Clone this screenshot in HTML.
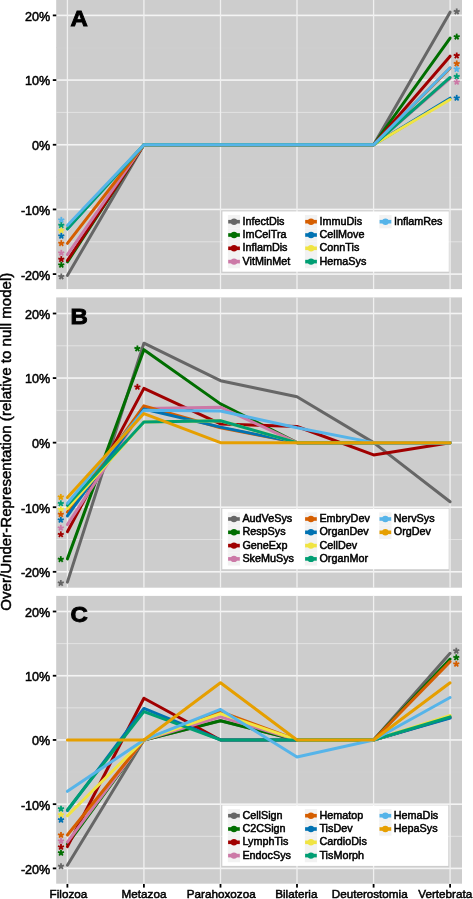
<!DOCTYPE html>
<html><head><meta charset="utf-8"><style>
html,body{margin:0;padding:0;background:#fff;width:473px;height:899px;overflow:hidden;position:relative}
svg{will-change:transform}
svg text{font-family:"Liberation Sans",sans-serif;fill:#000;stroke:#000;stroke-width:0.5px}
.tk{font-size:12.6px}
.xl{font-size:11.7px}
.lg{font-size:10.8px}
.pl{font-size:22px;font-weight:bold;stroke-width:0.9px}
.yt{font-size:15.1px;stroke-width:0.5px}
</style></head><body>
<svg width="473" height="899" viewBox="0 0 473 899" style="position:absolute;left:0;top:0"><rect x="56.2" y="0.0" width="405.80" height="289.10" fill="#cdcdcd"/><rect x="56.2" y="47.24" width="405.80" height="1.0" fill="#cfcfcf"/><rect x="56.2" y="111.91" width="405.80" height="1.0" fill="#e2e2e2"/><rect x="56.2" y="176.59" width="405.80" height="1.0" fill="#cfcfcf"/><rect x="56.2" y="241.26" width="405.80" height="1.0" fill="#e2e2e2"/><rect x="56.2" y="14.60" width="405.80" height="1.6" fill="#f4f4f4"/><rect x="56.2" y="79.28" width="405.80" height="1.6" fill="#f4f4f4"/><rect x="56.2" y="143.95" width="405.80" height="1.6" fill="#f4f4f4"/><rect x="56.2" y="208.63" width="405.80" height="1.6" fill="#f4f4f4"/><rect x="56.2" y="273.30" width="405.80" height="1.6" fill="#f4f4f4"/><rect x="66.75" y="0.0" width="1.3" height="289.10" fill="#f0f0f0"/><rect x="143.25" y="0.0" width="1.3" height="289.10" fill="#f0f0f0"/><rect x="219.85" y="0.0" width="1.3" height="289.10" fill="#f0f0f0"/><rect x="296.35" y="0.0" width="1.3" height="289.10" fill="#f0f0f0"/><rect x="372.95" y="0.0" width="1.3" height="289.10" fill="#f0f0f0"/><rect x="449.45" y="0.0" width="1.3" height="289.10" fill="#f0f0f0"/><polyline points="67.40,275.39 143.90,144.75 220.50,144.75 297.00,144.75 373.60,144.75 450.10,12.17" fill="none" stroke="#666666" stroke-width="3.0" stroke-linejoin="round" stroke-linecap="round"/><polyline points="67.40,261.81 143.90,144.75 220.50,144.75 297.00,144.75 373.60,144.75 450.10,38.04" fill="none" stroke="#006e00" stroke-width="3.0" stroke-linejoin="round" stroke-linecap="round"/><polyline points="67.40,260.52 143.90,144.75 220.50,144.75 297.00,144.75 373.60,144.75 450.10,56.15" fill="none" stroke="#a00000" stroke-width="3.0" stroke-linejoin="round" stroke-linecap="round"/><polyline points="67.40,254.70 143.90,144.75 220.50,144.75 297.00,144.75 373.60,144.75 450.10,78.46" fill="none" stroke="#cc79a7" stroke-width="3.0" stroke-linejoin="round" stroke-linecap="round"/><polyline points="67.40,243.38 143.90,144.75 220.50,144.75 297.00,144.75 373.60,144.75 450.10,68.11" fill="none" stroke="#d55e00" stroke-width="3.0" stroke-linejoin="round" stroke-linecap="round"/><polyline points="67.40,228.83 143.90,144.75 220.50,144.75 297.00,144.75 373.60,144.75 450.10,98.18" fill="none" stroke="#0072b2" stroke-width="3.0" stroke-linejoin="round" stroke-linecap="round"/><polyline points="67.40,227.53 143.90,144.75 220.50,144.75 297.00,144.75 373.60,144.75 450.10,99.48" fill="none" stroke="#f0e442" stroke-width="3.0" stroke-linejoin="round" stroke-linecap="round"/><polyline points="67.40,228.83 143.90,144.75 220.50,144.75 297.00,144.75 373.60,144.75 450.10,77.49" fill="none" stroke="#009e73" stroke-width="3.0" stroke-linejoin="round" stroke-linecap="round"/><polyline points="67.40,225.59 143.90,144.75 220.50,144.75 297.00,144.75 373.60,144.75 450.10,67.79" fill="none" stroke="#56b4e9" stroke-width="3.0" stroke-linejoin="round" stroke-linecap="round"/><g transform="translate(61.30,220.00)" fill="#56b4e9"><rect x="-0.9" y="-3.15" width="1.8" height="3.15" transform="rotate(0)"/><rect x="-0.9" y="-3.15" width="1.8" height="3.15" transform="rotate(72)"/><rect x="-0.9" y="-3.15" width="1.8" height="3.15" transform="rotate(144)"/><rect x="-0.9" y="-3.15" width="1.8" height="3.15" transform="rotate(216)"/><rect x="-0.9" y="-3.15" width="1.8" height="3.15" transform="rotate(288)"/><circle r="1.5"/></g><g transform="translate(61.30,225.30)" fill="#009e73"><rect x="-0.9" y="-3.15" width="1.8" height="3.15" transform="rotate(0)"/><rect x="-0.9" y="-3.15" width="1.8" height="3.15" transform="rotate(72)"/><rect x="-0.9" y="-3.15" width="1.8" height="3.15" transform="rotate(144)"/><rect x="-0.9" y="-3.15" width="1.8" height="3.15" transform="rotate(216)"/><rect x="-0.9" y="-3.15" width="1.8" height="3.15" transform="rotate(288)"/><circle r="1.5"/></g><g transform="translate(61.30,230.50)" fill="#f0e442"><rect x="-0.9" y="-3.15" width="1.8" height="3.15" transform="rotate(0)"/><rect x="-0.9" y="-3.15" width="1.8" height="3.15" transform="rotate(72)"/><rect x="-0.9" y="-3.15" width="1.8" height="3.15" transform="rotate(144)"/><rect x="-0.9" y="-3.15" width="1.8" height="3.15" transform="rotate(216)"/><rect x="-0.9" y="-3.15" width="1.8" height="3.15" transform="rotate(288)"/><circle r="1.5"/></g><g transform="translate(61.30,236.00)" fill="#0072b2"><rect x="-0.9" y="-3.15" width="1.8" height="3.15" transform="rotate(0)"/><rect x="-0.9" y="-3.15" width="1.8" height="3.15" transform="rotate(72)"/><rect x="-0.9" y="-3.15" width="1.8" height="3.15" transform="rotate(144)"/><rect x="-0.9" y="-3.15" width="1.8" height="3.15" transform="rotate(216)"/><rect x="-0.9" y="-3.15" width="1.8" height="3.15" transform="rotate(288)"/><circle r="1.5"/></g><g transform="translate(61.30,243.30)" fill="#d55e00"><rect x="-0.9" y="-3.15" width="1.8" height="3.15" transform="rotate(0)"/><rect x="-0.9" y="-3.15" width="1.8" height="3.15" transform="rotate(72)"/><rect x="-0.9" y="-3.15" width="1.8" height="3.15" transform="rotate(144)"/><rect x="-0.9" y="-3.15" width="1.8" height="3.15" transform="rotate(216)"/><rect x="-0.9" y="-3.15" width="1.8" height="3.15" transform="rotate(288)"/><circle r="1.5"/></g><g transform="translate(61.30,253.00)" fill="#cc79a7"><rect x="-0.9" y="-3.15" width="1.8" height="3.15" transform="rotate(0)"/><rect x="-0.9" y="-3.15" width="1.8" height="3.15" transform="rotate(72)"/><rect x="-0.9" y="-3.15" width="1.8" height="3.15" transform="rotate(144)"/><rect x="-0.9" y="-3.15" width="1.8" height="3.15" transform="rotate(216)"/><rect x="-0.9" y="-3.15" width="1.8" height="3.15" transform="rotate(288)"/><circle r="1.5"/></g><g transform="translate(61.30,259.30)" fill="#a00000"><rect x="-0.9" y="-3.15" width="1.8" height="3.15" transform="rotate(0)"/><rect x="-0.9" y="-3.15" width="1.8" height="3.15" transform="rotate(72)"/><rect x="-0.9" y="-3.15" width="1.8" height="3.15" transform="rotate(144)"/><rect x="-0.9" y="-3.15" width="1.8" height="3.15" transform="rotate(216)"/><rect x="-0.9" y="-3.15" width="1.8" height="3.15" transform="rotate(288)"/><circle r="1.5"/></g><g transform="translate(61.30,265.00)" fill="#006e00"><rect x="-0.9" y="-3.15" width="1.8" height="3.15" transform="rotate(0)"/><rect x="-0.9" y="-3.15" width="1.8" height="3.15" transform="rotate(72)"/><rect x="-0.9" y="-3.15" width="1.8" height="3.15" transform="rotate(144)"/><rect x="-0.9" y="-3.15" width="1.8" height="3.15" transform="rotate(216)"/><rect x="-0.9" y="-3.15" width="1.8" height="3.15" transform="rotate(288)"/><circle r="1.5"/></g><g transform="translate(61.30,276.60)" fill="#666666"><rect x="-0.9" y="-3.15" width="1.8" height="3.15" transform="rotate(0)"/><rect x="-0.9" y="-3.15" width="1.8" height="3.15" transform="rotate(72)"/><rect x="-0.9" y="-3.15" width="1.8" height="3.15" transform="rotate(144)"/><rect x="-0.9" y="-3.15" width="1.8" height="3.15" transform="rotate(216)"/><rect x="-0.9" y="-3.15" width="1.8" height="3.15" transform="rotate(288)"/><circle r="1.5"/></g><g transform="translate(456.70,11.60)" fill="#666666"><rect x="-0.9" y="-3.15" width="1.8" height="3.15" transform="rotate(0)"/><rect x="-0.9" y="-3.15" width="1.8" height="3.15" transform="rotate(72)"/><rect x="-0.9" y="-3.15" width="1.8" height="3.15" transform="rotate(144)"/><rect x="-0.9" y="-3.15" width="1.8" height="3.15" transform="rotate(216)"/><rect x="-0.9" y="-3.15" width="1.8" height="3.15" transform="rotate(288)"/><circle r="1.5"/></g><g transform="translate(456.70,36.80)" fill="#006e00"><rect x="-0.9" y="-3.15" width="1.8" height="3.15" transform="rotate(0)"/><rect x="-0.9" y="-3.15" width="1.8" height="3.15" transform="rotate(72)"/><rect x="-0.9" y="-3.15" width="1.8" height="3.15" transform="rotate(144)"/><rect x="-0.9" y="-3.15" width="1.8" height="3.15" transform="rotate(216)"/><rect x="-0.9" y="-3.15" width="1.8" height="3.15" transform="rotate(288)"/><circle r="1.5"/></g><g transform="translate(456.70,55.70)" fill="#a00000"><rect x="-0.9" y="-3.15" width="1.8" height="3.15" transform="rotate(0)"/><rect x="-0.9" y="-3.15" width="1.8" height="3.15" transform="rotate(72)"/><rect x="-0.9" y="-3.15" width="1.8" height="3.15" transform="rotate(144)"/><rect x="-0.9" y="-3.15" width="1.8" height="3.15" transform="rotate(216)"/><rect x="-0.9" y="-3.15" width="1.8" height="3.15" transform="rotate(288)"/><circle r="1.5"/></g><g transform="translate(456.70,63.60)" fill="#d55e00"><rect x="-0.9" y="-3.15" width="1.8" height="3.15" transform="rotate(0)"/><rect x="-0.9" y="-3.15" width="1.8" height="3.15" transform="rotate(72)"/><rect x="-0.9" y="-3.15" width="1.8" height="3.15" transform="rotate(144)"/><rect x="-0.9" y="-3.15" width="1.8" height="3.15" transform="rotate(216)"/><rect x="-0.9" y="-3.15" width="1.8" height="3.15" transform="rotate(288)"/><circle r="1.5"/></g><g transform="translate(456.70,69.20)" fill="#56b4e9"><rect x="-0.9" y="-3.15" width="1.8" height="3.15" transform="rotate(0)"/><rect x="-0.9" y="-3.15" width="1.8" height="3.15" transform="rotate(72)"/><rect x="-0.9" y="-3.15" width="1.8" height="3.15" transform="rotate(144)"/><rect x="-0.9" y="-3.15" width="1.8" height="3.15" transform="rotate(216)"/><rect x="-0.9" y="-3.15" width="1.8" height="3.15" transform="rotate(288)"/><circle r="1.5"/></g><g transform="translate(456.70,76.50)" fill="#009e73"><rect x="-0.9" y="-3.15" width="1.8" height="3.15" transform="rotate(0)"/><rect x="-0.9" y="-3.15" width="1.8" height="3.15" transform="rotate(72)"/><rect x="-0.9" y="-3.15" width="1.8" height="3.15" transform="rotate(144)"/><rect x="-0.9" y="-3.15" width="1.8" height="3.15" transform="rotate(216)"/><rect x="-0.9" y="-3.15" width="1.8" height="3.15" transform="rotate(288)"/><circle r="1.5"/></g><g transform="translate(456.70,82.00)" fill="#cc79a7"><rect x="-0.9" y="-3.15" width="1.8" height="3.15" transform="rotate(0)"/><rect x="-0.9" y="-3.15" width="1.8" height="3.15" transform="rotate(72)"/><rect x="-0.9" y="-3.15" width="1.8" height="3.15" transform="rotate(144)"/><rect x="-0.9" y="-3.15" width="1.8" height="3.15" transform="rotate(216)"/><rect x="-0.9" y="-3.15" width="1.8" height="3.15" transform="rotate(288)"/><circle r="1.5"/></g><g transform="translate(456.70,98.00)" fill="#0072b2"><rect x="-0.9" y="-3.15" width="1.8" height="3.15" transform="rotate(0)"/><rect x="-0.9" y="-3.15" width="1.8" height="3.15" transform="rotate(72)"/><rect x="-0.9" y="-3.15" width="1.8" height="3.15" transform="rotate(144)"/><rect x="-0.9" y="-3.15" width="1.8" height="3.15" transform="rotate(216)"/><rect x="-0.9" y="-3.15" width="1.8" height="3.15" transform="rotate(288)"/><circle r="1.5"/></g><rect x="52.8" y="14.50" width="3.5" height="1.8" fill="#000"/><text x="50.3" y="20.80" text-anchor="end" class="tk">20%</text><rect x="52.8" y="79.18" width="3.5" height="1.8" fill="#000"/><text x="50.3" y="85.48" text-anchor="end" class="tk">10%</text><rect x="52.8" y="143.85" width="3.5" height="1.8" fill="#000"/><text x="50.3" y="150.15" text-anchor="end" class="tk">0%</text><rect x="52.8" y="208.53" width="3.5" height="1.8" fill="#000"/><text x="50.3" y="214.83" text-anchor="end" class="tk">-10%</text><rect x="52.8" y="273.20" width="3.5" height="1.8" fill="#000"/><text x="50.3" y="279.50" text-anchor="end" class="tk">-20%</text><text transform="translate(70.5,26.30) scale(1.09,1)" class="pl">A</text><rect x="222.4" y="211.4" width="226.4" height="60.3" fill="#fff"/><rect x="227.90" y="215.05" width="12.3" height="13.3" fill="#f2f2f2"/><rect x="228.20" y="219.90" width="11.7" height="3.6" fill="#666666"/><circle cx="234.05" cy="221.70" r="3.2" fill="#666666"/><text x="242.50" y="224.60" class="lg">InfectDis</text><rect x="227.90" y="228.35" width="12.3" height="13.3" fill="#f2f2f2"/><rect x="228.20" y="233.20" width="11.7" height="3.6" fill="#006e00"/><circle cx="234.05" cy="235.00" r="3.2" fill="#006e00"/><text x="242.50" y="237.90" class="lg">ImCelTra</text><rect x="227.90" y="241.65" width="12.3" height="13.3" fill="#f2f2f2"/><rect x="228.20" y="246.50" width="11.7" height="3.6" fill="#a00000"/><circle cx="234.05" cy="248.30" r="3.2" fill="#a00000"/><text x="242.50" y="251.20" class="lg">InflamDis</text><rect x="227.90" y="254.95" width="12.3" height="13.3" fill="#f2f2f2"/><rect x="228.20" y="259.80" width="11.7" height="3.6" fill="#cc79a7"/><circle cx="234.05" cy="261.60" r="3.2" fill="#cc79a7"/><text x="242.50" y="264.50" class="lg">VitMinMet</text><rect x="304.90" y="215.05" width="12.3" height="13.3" fill="#f2f2f2"/><rect x="305.20" y="219.90" width="11.7" height="3.6" fill="#d55e00"/><circle cx="311.05" cy="221.70" r="3.2" fill="#d55e00"/><text x="319.50" y="224.60" class="lg">ImmuDis</text><rect x="304.90" y="228.35" width="12.3" height="13.3" fill="#f2f2f2"/><rect x="305.20" y="233.20" width="11.7" height="3.6" fill="#0072b2"/><circle cx="311.05" cy="235.00" r="3.2" fill="#0072b2"/><text x="319.50" y="237.90" class="lg">CellMove</text><rect x="304.90" y="241.65" width="12.3" height="13.3" fill="#f2f2f2"/><rect x="305.20" y="246.50" width="11.7" height="3.6" fill="#f0e442"/><circle cx="311.05" cy="248.30" r="3.2" fill="#f0e442"/><text x="319.50" y="251.20" class="lg">ConnTis</text><rect x="304.90" y="254.95" width="12.3" height="13.3" fill="#f2f2f2"/><rect x="305.20" y="259.80" width="11.7" height="3.6" fill="#009e73"/><circle cx="311.05" cy="261.60" r="3.2" fill="#009e73"/><text x="319.50" y="264.50" class="lg">HemaSys</text><rect x="379.30" y="215.05" width="12.3" height="13.3" fill="#f2f2f2"/><rect x="379.60" y="219.90" width="11.7" height="3.6" fill="#56b4e9"/><circle cx="385.45" cy="221.70" r="3.2" fill="#56b4e9"/><text x="393.90" y="224.60" class="lg">InflamRes</text><rect x="56.2" y="297.4" width="405.80" height="290.30" fill="#cdcdcd"/><rect x="56.2" y="345.29" width="405.80" height="1.0" fill="#e2e2e2"/><rect x="56.2" y="409.86" width="405.80" height="1.0" fill="#e2e2e2"/><rect x="56.2" y="474.44" width="405.80" height="1.0" fill="#e2e2e2"/><rect x="56.2" y="539.01" width="405.80" height="1.0" fill="#e2e2e2"/><rect x="56.2" y="312.70" width="405.80" height="1.6" fill="#f4f4f4"/><rect x="56.2" y="377.27" width="405.80" height="1.6" fill="#f4f4f4"/><rect x="56.2" y="441.85" width="405.80" height="1.6" fill="#f4f4f4"/><rect x="56.2" y="506.42" width="405.80" height="1.6" fill="#f4f4f4"/><rect x="56.2" y="571.00" width="405.80" height="1.6" fill="#f4f4f4"/><rect x="66.75" y="297.4" width="1.3" height="290.30" fill="#f0f0f0"/><rect x="143.25" y="297.4" width="1.3" height="290.30" fill="#f0f0f0"/><rect x="219.85" y="297.4" width="1.3" height="290.30" fill="#f0f0f0"/><rect x="296.35" y="297.4" width="1.3" height="290.30" fill="#f0f0f0"/><rect x="372.95" y="297.4" width="1.3" height="290.30" fill="#f0f0f0"/><rect x="449.45" y="297.4" width="1.3" height="290.30" fill="#f0f0f0"/><polyline points="67.40,582.13 143.90,343.20 220.50,380.66 297.00,396.80 373.60,442.65 450.10,501.74" fill="none" stroke="#666666" stroke-width="3.0" stroke-linejoin="round" stroke-linecap="round"/><polyline points="67.40,558.88 143.90,349.66 220.50,403.90 297.00,442.65 373.60,442.65 450.10,442.65" fill="none" stroke="#006e00" stroke-width="3.0" stroke-linejoin="round" stroke-linecap="round"/><polyline points="67.40,531.76 143.90,388.41 220.50,423.92 297.00,426.51 373.60,454.92 450.10,442.65" fill="none" stroke="#a00000" stroke-width="3.0" stroke-linejoin="round" stroke-linecap="round"/><polyline points="67.40,524.66 143.90,408.43 220.50,407.13 297.00,442.65 373.60,442.65 450.10,442.65" fill="none" stroke="#cc79a7" stroke-width="3.0" stroke-linejoin="round" stroke-linecap="round"/><polyline points="67.40,512.07 143.90,405.84 220.50,427.80 297.00,442.65 373.60,442.65 450.10,442.65" fill="none" stroke="#d55e00" stroke-width="3.0" stroke-linejoin="round" stroke-linecap="round"/><polyline points="67.40,515.94 143.90,409.07 220.50,427.15 297.00,442.65 373.60,442.65 450.10,442.65" fill="none" stroke="#0072b2" stroke-width="3.0" stroke-linejoin="round" stroke-linecap="round"/><polyline points="67.40,508.52 143.90,421.99 220.50,420.69 297.00,442.65 373.60,442.65 450.10,442.65" fill="none" stroke="#f0e442" stroke-width="3.0" stroke-linejoin="round" stroke-linecap="round"/><polyline points="67.40,505.29 143.90,421.99 220.50,420.69 297.00,442.65 373.60,442.65 450.10,442.65" fill="none" stroke="#009e73" stroke-width="3.0" stroke-linejoin="round" stroke-linecap="round"/><polyline points="67.40,503.35 143.90,410.36 220.50,411.01 297.00,427.80 373.60,442.65 450.10,442.65" fill="none" stroke="#56b4e9" stroke-width="3.0" stroke-linejoin="round" stroke-linecap="round"/><polyline points="67.40,497.54 143.90,413.59 220.50,442.65 297.00,442.65 373.60,442.65 450.10,442.65" fill="none" stroke="#e69f00" stroke-width="3.0" stroke-linejoin="round" stroke-linecap="round"/><g transform="translate(60.80,497.10)" fill="#e69f00"><rect x="-0.9" y="-3.15" width="1.8" height="3.15" transform="rotate(0)"/><rect x="-0.9" y="-3.15" width="1.8" height="3.15" transform="rotate(72)"/><rect x="-0.9" y="-3.15" width="1.8" height="3.15" transform="rotate(144)"/><rect x="-0.9" y="-3.15" width="1.8" height="3.15" transform="rotate(216)"/><rect x="-0.9" y="-3.15" width="1.8" height="3.15" transform="rotate(288)"/><circle r="1.5"/></g><g transform="translate(60.80,503.50)" fill="#009e73"><rect x="-0.9" y="-3.15" width="1.8" height="3.15" transform="rotate(0)"/><rect x="-0.9" y="-3.15" width="1.8" height="3.15" transform="rotate(72)"/><rect x="-0.9" y="-3.15" width="1.8" height="3.15" transform="rotate(144)"/><rect x="-0.9" y="-3.15" width="1.8" height="3.15" transform="rotate(216)"/><rect x="-0.9" y="-3.15" width="1.8" height="3.15" transform="rotate(288)"/><circle r="1.5"/></g><g transform="translate(60.80,509.40)" fill="#f0e442"><rect x="-0.9" y="-3.15" width="1.8" height="3.15" transform="rotate(0)"/><rect x="-0.9" y="-3.15" width="1.8" height="3.15" transform="rotate(72)"/><rect x="-0.9" y="-3.15" width="1.8" height="3.15" transform="rotate(144)"/><rect x="-0.9" y="-3.15" width="1.8" height="3.15" transform="rotate(216)"/><rect x="-0.9" y="-3.15" width="1.8" height="3.15" transform="rotate(288)"/><circle r="1.5"/></g><g transform="translate(60.80,514.30)" fill="#d55e00"><rect x="-0.9" y="-3.15" width="1.8" height="3.15" transform="rotate(0)"/><rect x="-0.9" y="-3.15" width="1.8" height="3.15" transform="rotate(72)"/><rect x="-0.9" y="-3.15" width="1.8" height="3.15" transform="rotate(144)"/><rect x="-0.9" y="-3.15" width="1.8" height="3.15" transform="rotate(216)"/><rect x="-0.9" y="-3.15" width="1.8" height="3.15" transform="rotate(288)"/><circle r="1.5"/></g><g transform="translate(60.80,520.00)" fill="#0072b2"><rect x="-0.9" y="-3.15" width="1.8" height="3.15" transform="rotate(0)"/><rect x="-0.9" y="-3.15" width="1.8" height="3.15" transform="rotate(72)"/><rect x="-0.9" y="-3.15" width="1.8" height="3.15" transform="rotate(144)"/><rect x="-0.9" y="-3.15" width="1.8" height="3.15" transform="rotate(216)"/><rect x="-0.9" y="-3.15" width="1.8" height="3.15" transform="rotate(288)"/><circle r="1.5"/></g><g transform="translate(60.80,528.00)" fill="#cc79a7"><rect x="-0.9" y="-3.15" width="1.8" height="3.15" transform="rotate(0)"/><rect x="-0.9" y="-3.15" width="1.8" height="3.15" transform="rotate(72)"/><rect x="-0.9" y="-3.15" width="1.8" height="3.15" transform="rotate(144)"/><rect x="-0.9" y="-3.15" width="1.8" height="3.15" transform="rotate(216)"/><rect x="-0.9" y="-3.15" width="1.8" height="3.15" transform="rotate(288)"/><circle r="1.5"/></g><g transform="translate(60.80,534.50)" fill="#a00000"><rect x="-0.9" y="-3.15" width="1.8" height="3.15" transform="rotate(0)"/><rect x="-0.9" y="-3.15" width="1.8" height="3.15" transform="rotate(72)"/><rect x="-0.9" y="-3.15" width="1.8" height="3.15" transform="rotate(144)"/><rect x="-0.9" y="-3.15" width="1.8" height="3.15" transform="rotate(216)"/><rect x="-0.9" y="-3.15" width="1.8" height="3.15" transform="rotate(288)"/><circle r="1.5"/></g><g transform="translate(60.80,559.30)" fill="#006e00"><rect x="-0.9" y="-3.15" width="1.8" height="3.15" transform="rotate(0)"/><rect x="-0.9" y="-3.15" width="1.8" height="3.15" transform="rotate(72)"/><rect x="-0.9" y="-3.15" width="1.8" height="3.15" transform="rotate(144)"/><rect x="-0.9" y="-3.15" width="1.8" height="3.15" transform="rotate(216)"/><rect x="-0.9" y="-3.15" width="1.8" height="3.15" transform="rotate(288)"/><circle r="1.5"/></g><g transform="translate(60.80,583.20)" fill="#666666"><rect x="-0.9" y="-3.15" width="1.8" height="3.15" transform="rotate(0)"/><rect x="-0.9" y="-3.15" width="1.8" height="3.15" transform="rotate(72)"/><rect x="-0.9" y="-3.15" width="1.8" height="3.15" transform="rotate(144)"/><rect x="-0.9" y="-3.15" width="1.8" height="3.15" transform="rotate(216)"/><rect x="-0.9" y="-3.15" width="1.8" height="3.15" transform="rotate(288)"/><circle r="1.5"/></g><g transform="translate(137.40,348.60)" fill="#006e00"><rect x="-0.9" y="-3.15" width="1.8" height="3.15" transform="rotate(0)"/><rect x="-0.9" y="-3.15" width="1.8" height="3.15" transform="rotate(72)"/><rect x="-0.9" y="-3.15" width="1.8" height="3.15" transform="rotate(144)"/><rect x="-0.9" y="-3.15" width="1.8" height="3.15" transform="rotate(216)"/><rect x="-0.9" y="-3.15" width="1.8" height="3.15" transform="rotate(288)"/><circle r="1.5"/></g><g transform="translate(137.40,387.00)" fill="#a00000"><rect x="-0.9" y="-3.15" width="1.8" height="3.15" transform="rotate(0)"/><rect x="-0.9" y="-3.15" width="1.8" height="3.15" transform="rotate(72)"/><rect x="-0.9" y="-3.15" width="1.8" height="3.15" transform="rotate(144)"/><rect x="-0.9" y="-3.15" width="1.8" height="3.15" transform="rotate(216)"/><rect x="-0.9" y="-3.15" width="1.8" height="3.15" transform="rotate(288)"/><circle r="1.5"/></g><rect x="52.8" y="312.60" width="3.5" height="1.8" fill="#000"/><text x="50.3" y="318.90" text-anchor="end" class="tk">20%</text><rect x="52.8" y="377.18" width="3.5" height="1.8" fill="#000"/><text x="50.3" y="383.47" text-anchor="end" class="tk">10%</text><rect x="52.8" y="441.75" width="3.5" height="1.8" fill="#000"/><text x="50.3" y="448.05" text-anchor="end" class="tk">0%</text><rect x="52.8" y="506.32" width="3.5" height="1.8" fill="#000"/><text x="50.3" y="512.62" text-anchor="end" class="tk">-10%</text><rect x="52.8" y="570.90" width="3.5" height="1.8" fill="#000"/><text x="50.3" y="577.20" text-anchor="end" class="tk">-20%</text><text transform="translate(70.5,323.70) scale(1.09,1)" class="pl">B</text><rect x="222.3" y="508.7" width="226.4" height="60.5" fill="#fff"/><rect x="227.80" y="512.35" width="12.3" height="13.3" fill="#f2f2f2"/><rect x="228.10" y="517.20" width="11.7" height="3.6" fill="#666666"/><circle cx="233.95" cy="519.00" r="3.2" fill="#666666"/><text x="242.40" y="521.90" class="lg">AudVeSys</text><rect x="227.80" y="525.65" width="12.3" height="13.3" fill="#f2f2f2"/><rect x="228.10" y="530.50" width="11.7" height="3.6" fill="#006e00"/><circle cx="233.95" cy="532.30" r="3.2" fill="#006e00"/><text x="242.40" y="535.20" class="lg">RespSys</text><rect x="227.80" y="538.95" width="12.3" height="13.3" fill="#f2f2f2"/><rect x="228.10" y="543.80" width="11.7" height="3.6" fill="#a00000"/><circle cx="233.95" cy="545.60" r="3.2" fill="#a00000"/><text x="242.40" y="548.50" class="lg">GeneExp</text><rect x="227.80" y="552.25" width="12.3" height="13.3" fill="#f2f2f2"/><rect x="228.10" y="557.10" width="11.7" height="3.6" fill="#cc79a7"/><circle cx="233.95" cy="558.90" r="3.2" fill="#cc79a7"/><text x="242.40" y="561.80" class="lg">SkeMuSys</text><rect x="304.80" y="512.35" width="12.3" height="13.3" fill="#f2f2f2"/><rect x="305.10" y="517.20" width="11.7" height="3.6" fill="#d55e00"/><circle cx="310.95" cy="519.00" r="3.2" fill="#d55e00"/><text x="319.40" y="521.90" class="lg">EmbryDev</text><rect x="304.80" y="525.65" width="12.3" height="13.3" fill="#f2f2f2"/><rect x="305.10" y="530.50" width="11.7" height="3.6" fill="#0072b2"/><circle cx="310.95" cy="532.30" r="3.2" fill="#0072b2"/><text x="319.40" y="535.20" class="lg">OrganDev</text><rect x="304.80" y="538.95" width="12.3" height="13.3" fill="#f2f2f2"/><rect x="305.10" y="543.80" width="11.7" height="3.6" fill="#f0e442"/><circle cx="310.95" cy="545.60" r="3.2" fill="#f0e442"/><text x="319.40" y="548.50" class="lg">CellDev</text><rect x="304.80" y="552.25" width="12.3" height="13.3" fill="#f2f2f2"/><rect x="305.10" y="557.10" width="11.7" height="3.6" fill="#009e73"/><circle cx="310.95" cy="558.90" r="3.2" fill="#009e73"/><text x="319.40" y="561.80" class="lg">OrganMor</text><rect x="379.20" y="512.35" width="12.3" height="13.3" fill="#f2f2f2"/><rect x="379.50" y="517.20" width="11.7" height="3.6" fill="#56b4e9"/><circle cx="385.35" cy="519.00" r="3.2" fill="#56b4e9"/><text x="393.80" y="521.90" class="lg">NervSys</text><rect x="379.20" y="525.65" width="12.3" height="13.3" fill="#f2f2f2"/><rect x="379.50" y="530.50" width="11.7" height="3.6" fill="#e69f00"/><circle cx="385.35" cy="532.30" r="3.2" fill="#e69f00"/><text x="393.80" y="535.20" class="lg">OrgDev</text><rect x="56.2" y="595.9" width="405.80" height="287.80" fill="#cdcdcd"/><rect x="56.2" y="643.11" width="405.80" height="1.0" fill="#e2e2e2"/><rect x="56.2" y="707.34" width="405.80" height="1.0" fill="#e2e2e2"/><rect x="56.2" y="771.56" width="405.80" height="1.0" fill="#cfcfcf"/><rect x="56.2" y="835.79" width="405.80" height="1.0" fill="#e2e2e2"/><rect x="56.2" y="610.70" width="405.80" height="1.6" fill="#f4f4f4"/><rect x="56.2" y="674.93" width="405.80" height="1.6" fill="#f4f4f4"/><rect x="56.2" y="739.15" width="405.80" height="1.6" fill="#f4f4f4"/><rect x="56.2" y="803.38" width="405.80" height="1.6" fill="#f4f4f4"/><rect x="56.2" y="867.60" width="405.80" height="1.6" fill="#f4f4f4"/><rect x="66.75" y="595.9" width="1.3" height="287.80" fill="#f0f0f0"/><rect x="143.25" y="595.9" width="1.3" height="287.80" fill="#f0f0f0"/><rect x="219.85" y="595.9" width="1.3" height="287.80" fill="#f0f0f0"/><rect x="296.35" y="595.9" width="1.3" height="287.80" fill="#f0f0f0"/><rect x="372.95" y="595.9" width="1.3" height="287.80" fill="#f0f0f0"/><rect x="449.45" y="595.9" width="1.3" height="287.80" fill="#f0f0f0"/><polyline points="67.40,865.19 143.90,739.95 220.50,720.68 297.00,739.95 373.60,739.95 450.10,653.25" fill="none" stroke="#666666" stroke-width="3.0" stroke-linejoin="round" stroke-linecap="round"/><polyline points="67.40,843.99 143.90,739.95 220.50,720.68 297.00,739.95 373.60,739.95 450.10,659.03" fill="none" stroke="#006e00" stroke-width="3.0" stroke-linejoin="round" stroke-linecap="round"/><polyline points="67.40,846.56 143.90,698.20 220.50,739.95 297.00,739.95 373.60,739.95 450.10,717.47" fill="none" stroke="#a00000" stroke-width="3.0" stroke-linejoin="round" stroke-linecap="round"/><polyline points="67.40,842.07 143.90,739.95 220.50,716.83 297.00,739.95 373.60,739.95 450.10,716.83" fill="none" stroke="#cc79a7" stroke-width="3.0" stroke-linejoin="round" stroke-linecap="round"/><polyline points="67.40,835.00 143.90,739.95 220.50,711.69 297.00,739.95 373.60,739.95 450.10,661.60" fill="none" stroke="#d55e00" stroke-width="3.0" stroke-linejoin="round" stroke-linecap="round"/><polyline points="67.40,810.60 143.90,708.48 220.50,739.95 297.00,739.95 373.60,739.95 450.10,718.11" fill="none" stroke="#0072b2" stroke-width="3.0" stroke-linejoin="round" stroke-linecap="round"/><polyline points="67.40,815.74 143.90,739.95 220.50,713.62 297.00,739.95 373.60,739.95 450.10,715.54" fill="none" stroke="#f0e442" stroke-width="3.0" stroke-linejoin="round" stroke-linecap="round"/><polyline points="67.40,809.96 143.90,711.69 220.50,739.95 297.00,739.95 373.60,739.95 450.10,716.83" fill="none" stroke="#009e73" stroke-width="3.0" stroke-linejoin="round" stroke-linecap="round"/><polyline points="67.40,791.33 143.90,739.95 220.50,709.44 297.00,756.97 373.60,739.95 450.10,697.56" fill="none" stroke="#56b4e9" stroke-width="3.0" stroke-linejoin="round" stroke-linecap="round"/><polyline points="67.40,739.95 143.90,739.95 220.50,682.79 297.00,739.95 373.60,739.95 450.10,682.79" fill="none" stroke="#e69f00" stroke-width="3.0" stroke-linejoin="round" stroke-linecap="round"/><g transform="translate(61.00,808.90)" fill="#009e73"><rect x="-0.9" y="-3.15" width="1.8" height="3.15" transform="rotate(0)"/><rect x="-0.9" y="-3.15" width="1.8" height="3.15" transform="rotate(72)"/><rect x="-0.9" y="-3.15" width="1.8" height="3.15" transform="rotate(144)"/><rect x="-0.9" y="-3.15" width="1.8" height="3.15" transform="rotate(216)"/><rect x="-0.9" y="-3.15" width="1.8" height="3.15" transform="rotate(288)"/><circle r="1.5"/></g><g transform="translate(61.00,814.80)" fill="#f0e442"><rect x="-0.9" y="-3.15" width="1.8" height="3.15" transform="rotate(0)"/><rect x="-0.9" y="-3.15" width="1.8" height="3.15" transform="rotate(72)"/><rect x="-0.9" y="-3.15" width="1.8" height="3.15" transform="rotate(144)"/><rect x="-0.9" y="-3.15" width="1.8" height="3.15" transform="rotate(216)"/><rect x="-0.9" y="-3.15" width="1.8" height="3.15" transform="rotate(288)"/><circle r="1.5"/></g><g transform="translate(61.00,819.90)" fill="#0072b2"><rect x="-0.9" y="-3.15" width="1.8" height="3.15" transform="rotate(0)"/><rect x="-0.9" y="-3.15" width="1.8" height="3.15" transform="rotate(72)"/><rect x="-0.9" y="-3.15" width="1.8" height="3.15" transform="rotate(144)"/><rect x="-0.9" y="-3.15" width="1.8" height="3.15" transform="rotate(216)"/><rect x="-0.9" y="-3.15" width="1.8" height="3.15" transform="rotate(288)"/><circle r="1.5"/></g><g transform="translate(61.00,835.10)" fill="#d55e00"><rect x="-0.9" y="-3.15" width="1.8" height="3.15" transform="rotate(0)"/><rect x="-0.9" y="-3.15" width="1.8" height="3.15" transform="rotate(72)"/><rect x="-0.9" y="-3.15" width="1.8" height="3.15" transform="rotate(144)"/><rect x="-0.9" y="-3.15" width="1.8" height="3.15" transform="rotate(216)"/><rect x="-0.9" y="-3.15" width="1.8" height="3.15" transform="rotate(288)"/><circle r="1.5"/></g><g transform="translate(61.00,841.00)" fill="#cc79a7"><rect x="-0.9" y="-3.15" width="1.8" height="3.15" transform="rotate(0)"/><rect x="-0.9" y="-3.15" width="1.8" height="3.15" transform="rotate(72)"/><rect x="-0.9" y="-3.15" width="1.8" height="3.15" transform="rotate(144)"/><rect x="-0.9" y="-3.15" width="1.8" height="3.15" transform="rotate(216)"/><rect x="-0.9" y="-3.15" width="1.8" height="3.15" transform="rotate(288)"/><circle r="1.5"/></g><g transform="translate(61.00,847.00)" fill="#a00000"><rect x="-0.9" y="-3.15" width="1.8" height="3.15" transform="rotate(0)"/><rect x="-0.9" y="-3.15" width="1.8" height="3.15" transform="rotate(72)"/><rect x="-0.9" y="-3.15" width="1.8" height="3.15" transform="rotate(144)"/><rect x="-0.9" y="-3.15" width="1.8" height="3.15" transform="rotate(216)"/><rect x="-0.9" y="-3.15" width="1.8" height="3.15" transform="rotate(288)"/><circle r="1.5"/></g><g transform="translate(61.00,852.90)" fill="#006e00"><rect x="-0.9" y="-3.15" width="1.8" height="3.15" transform="rotate(0)"/><rect x="-0.9" y="-3.15" width="1.8" height="3.15" transform="rotate(72)"/><rect x="-0.9" y="-3.15" width="1.8" height="3.15" transform="rotate(144)"/><rect x="-0.9" y="-3.15" width="1.8" height="3.15" transform="rotate(216)"/><rect x="-0.9" y="-3.15" width="1.8" height="3.15" transform="rotate(288)"/><circle r="1.5"/></g><g transform="translate(61.00,866.40)" fill="#666666"><rect x="-0.9" y="-3.15" width="1.8" height="3.15" transform="rotate(0)"/><rect x="-0.9" y="-3.15" width="1.8" height="3.15" transform="rotate(72)"/><rect x="-0.9" y="-3.15" width="1.8" height="3.15" transform="rotate(144)"/><rect x="-0.9" y="-3.15" width="1.8" height="3.15" transform="rotate(216)"/><rect x="-0.9" y="-3.15" width="1.8" height="3.15" transform="rotate(288)"/><circle r="1.5"/></g><g transform="translate(456.30,650.90)" fill="#666666"><rect x="-0.9" y="-3.15" width="1.8" height="3.15" transform="rotate(0)"/><rect x="-0.9" y="-3.15" width="1.8" height="3.15" transform="rotate(72)"/><rect x="-0.9" y="-3.15" width="1.8" height="3.15" transform="rotate(144)"/><rect x="-0.9" y="-3.15" width="1.8" height="3.15" transform="rotate(216)"/><rect x="-0.9" y="-3.15" width="1.8" height="3.15" transform="rotate(288)"/><circle r="1.5"/></g><g transform="translate(456.30,657.50)" fill="#006e00"><rect x="-0.9" y="-3.15" width="1.8" height="3.15" transform="rotate(0)"/><rect x="-0.9" y="-3.15" width="1.8" height="3.15" transform="rotate(72)"/><rect x="-0.9" y="-3.15" width="1.8" height="3.15" transform="rotate(144)"/><rect x="-0.9" y="-3.15" width="1.8" height="3.15" transform="rotate(216)"/><rect x="-0.9" y="-3.15" width="1.8" height="3.15" transform="rotate(288)"/><circle r="1.5"/></g><g transform="translate(456.30,664.00)" fill="#d55e00"><rect x="-0.9" y="-3.15" width="1.8" height="3.15" transform="rotate(0)"/><rect x="-0.9" y="-3.15" width="1.8" height="3.15" transform="rotate(72)"/><rect x="-0.9" y="-3.15" width="1.8" height="3.15" transform="rotate(144)"/><rect x="-0.9" y="-3.15" width="1.8" height="3.15" transform="rotate(216)"/><rect x="-0.9" y="-3.15" width="1.8" height="3.15" transform="rotate(288)"/><circle r="1.5"/></g><rect x="52.8" y="610.60" width="3.5" height="1.8" fill="#000"/><text x="50.3" y="616.90" text-anchor="end" class="tk">20%</text><rect x="52.8" y="674.83" width="3.5" height="1.8" fill="#000"/><text x="50.3" y="681.12" text-anchor="end" class="tk">10%</text><rect x="52.8" y="739.05" width="3.5" height="1.8" fill="#000"/><text x="50.3" y="745.35" text-anchor="end" class="tk">0%</text><rect x="52.8" y="803.27" width="3.5" height="1.8" fill="#000"/><text x="50.3" y="809.57" text-anchor="end" class="tk">-10%</text><rect x="52.8" y="867.50" width="3.5" height="1.8" fill="#000"/><text x="50.3" y="873.80" text-anchor="end" class="tk">-20%</text><text transform="translate(70.5,622.20) scale(1.09,1)" class="pl">C</text><rect x="222.3" y="805.4" width="226.0" height="60.5" fill="#fff"/><rect x="227.80" y="809.05" width="12.3" height="13.3" fill="#f2f2f2"/><rect x="228.10" y="813.90" width="11.7" height="3.6" fill="#666666"/><circle cx="233.95" cy="815.70" r="3.2" fill="#666666"/><text x="242.40" y="818.60" class="lg">CellSign</text><rect x="227.80" y="822.35" width="12.3" height="13.3" fill="#f2f2f2"/><rect x="228.10" y="827.20" width="11.7" height="3.6" fill="#006e00"/><circle cx="233.95" cy="829.00" r="3.2" fill="#006e00"/><text x="242.40" y="831.90" class="lg">C2CSign</text><rect x="227.80" y="835.65" width="12.3" height="13.3" fill="#f2f2f2"/><rect x="228.10" y="840.50" width="11.7" height="3.6" fill="#a00000"/><circle cx="233.95" cy="842.30" r="3.2" fill="#a00000"/><text x="242.40" y="845.20" class="lg">LymphTis</text><rect x="227.80" y="848.95" width="12.3" height="13.3" fill="#f2f2f2"/><rect x="228.10" y="853.80" width="11.7" height="3.6" fill="#cc79a7"/><circle cx="233.95" cy="855.60" r="3.2" fill="#cc79a7"/><text x="242.40" y="858.50" class="lg">EndocSys</text><rect x="304.80" y="809.05" width="12.3" height="13.3" fill="#f2f2f2"/><rect x="305.10" y="813.90" width="11.7" height="3.6" fill="#d55e00"/><circle cx="310.95" cy="815.70" r="3.2" fill="#d55e00"/><text x="319.40" y="818.60" class="lg">Hematop</text><rect x="304.80" y="822.35" width="12.3" height="13.3" fill="#f2f2f2"/><rect x="305.10" y="827.20" width="11.7" height="3.6" fill="#0072b2"/><circle cx="310.95" cy="829.00" r="3.2" fill="#0072b2"/><text x="319.40" y="831.90" class="lg">TisDev</text><rect x="304.80" y="835.65" width="12.3" height="13.3" fill="#f2f2f2"/><rect x="305.10" y="840.50" width="11.7" height="3.6" fill="#f0e442"/><circle cx="310.95" cy="842.30" r="3.2" fill="#f0e442"/><text x="319.40" y="845.20" class="lg">CardioDis</text><rect x="304.80" y="848.95" width="12.3" height="13.3" fill="#f2f2f2"/><rect x="305.10" y="853.80" width="11.7" height="3.6" fill="#009e73"/><circle cx="310.95" cy="855.60" r="3.2" fill="#009e73"/><text x="319.40" y="858.50" class="lg">TisMorph</text><rect x="379.20" y="809.05" width="12.3" height="13.3" fill="#f2f2f2"/><rect x="379.50" y="813.90" width="11.7" height="3.6" fill="#56b4e9"/><circle cx="385.35" cy="815.70" r="3.2" fill="#56b4e9"/><text x="393.80" y="818.60" class="lg">HemaDis</text><rect x="379.20" y="822.35" width="12.3" height="13.3" fill="#f2f2f2"/><rect x="379.50" y="827.20" width="11.7" height="3.6" fill="#e69f00"/><circle cx="385.35" cy="829.00" r="3.2" fill="#e69f00"/><text x="393.80" y="831.90" class="lg">HepaSys</text><rect x="66.50" y="884.0" width="1.8" height="3.6" fill="#000"/><text x="68.40" y="897.8" text-anchor="middle" class="xl">Filozoa</text><rect x="143.00" y="884.0" width="1.8" height="3.6" fill="#000"/><text x="144.00" y="897.8" text-anchor="middle" class="xl">Metazoa</text><rect x="219.60" y="884.0" width="1.8" height="3.6" fill="#000"/><text x="221.20" y="897.8" text-anchor="middle" class="xl">Parahoxozoa</text><rect x="296.10" y="884.0" width="1.8" height="3.6" fill="#000"/><text x="296.30" y="897.8" text-anchor="middle" class="xl">Bilateria</text><rect x="372.70" y="884.0" width="1.8" height="3.6" fill="#000"/><text x="369.70" y="897.8" text-anchor="middle" class="xl">Deuterostomia</text><rect x="449.20" y="884.0" width="1.8" height="3.6" fill="#000"/><text x="445.30" y="897.8" text-anchor="middle" class="xl">Vertebrata</text><text transform="translate(11.3,441.7) rotate(-90)" text-anchor="middle" class="yt">Over/Under-Representation (relative to null model)</text></svg>
</body></html>
